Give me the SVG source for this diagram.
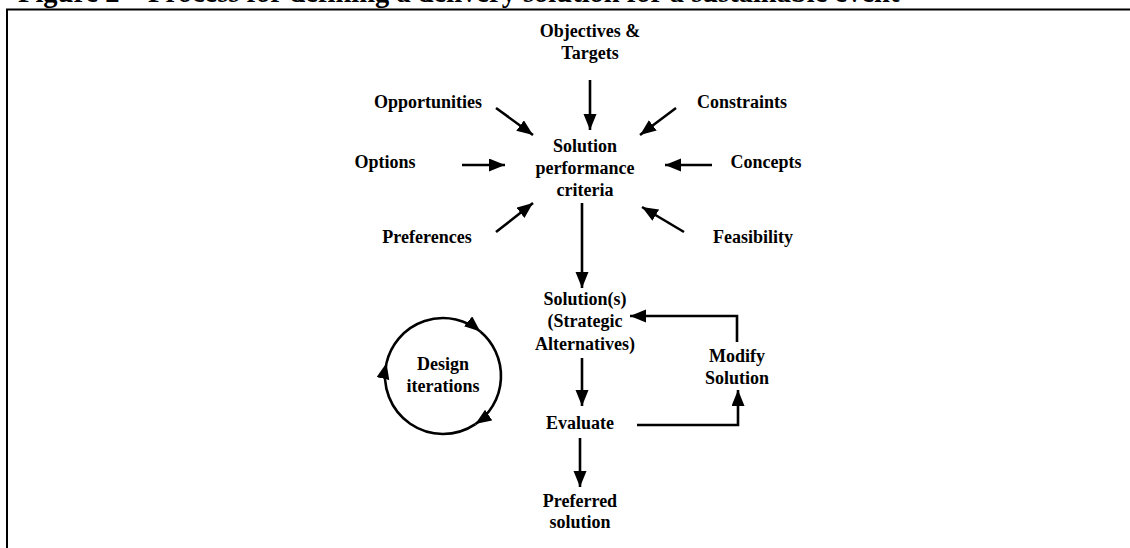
<svg xmlns="http://www.w3.org/2000/svg" width="1130" height="548" viewBox="0 0 1130 548">
<style>
  text { font-family: "Liberation Serif", "Times New Roman", serif; font-weight: bold; fill: #000; }
  .lbl { font-size: 18px; text-anchor: middle; }
  .title { font-size: 28.5px; }
  .conn { stroke: #000; stroke-width: 2.6; fill: none; marker-end: url(#ah); }
  .frame { stroke: #000; stroke-width: 2; fill: none; }
</style>
<defs>
  <marker id="ah" markerUnits="userSpaceOnUse" markerWidth="18" markerHeight="14" refX="16" refY="6.5" orient="auto">
    <path d="M0,0 L16,6.5 L0,13 z" fill="#000"/>
  </marker>
</defs>
<rect width="1130" height="548" fill="#fff"/>
<text class="title" x="18" y="2">Figure 2 – Process for defining a delivery solution for a sustainable event</text>
<path class="frame" d="M7,548 V9.5 H1130"/>

<g id="connectors">
  <line class="conn" x1="590" y1="80" x2="590" y2="130"/>
  <line class="conn" x1="496" y1="108" x2="533" y2="135"/>
  <line class="conn" x1="676" y1="108" x2="640" y2="135"/>
  <line class="conn" x1="462" y1="165" x2="505" y2="165"/>
  <line class="conn" x1="712" y1="165" x2="665" y2="165"/>
  <line class="conn" x1="496" y1="232" x2="533" y2="203"/>
  <line class="conn" x1="684" y1="232" x2="642" y2="207"/>
  <line class="conn" x1="582" y1="203" x2="582" y2="288"/>
  <line class="conn" x1="582" y1="358" x2="582" y2="406"/>
  <path class="conn" d="M637,425 H738 V390"/>
  <path class="conn" d="M737,342 V316 H630"/>
  <line class="conn" x1="580" y1="438" x2="580" y2="487"/>
</g>

<g id="objectives"><text class="lbl" x="590" y="37">Objectives &amp;</text><text class="lbl" x="590" y="59">Targets</text></g>
<g id="opportunities"><text class="lbl" x="428" y="108">Opportunities</text></g>
<g id="constraints"><text class="lbl" x="742" y="108">Constraints</text></g>
<g id="options"><text class="lbl" x="385" y="168">Options</text></g>
<g id="concepts"><text class="lbl" x="766" y="168">Concepts</text></g>
<g id="criteria"><text class="lbl" x="585" y="152">Solution</text><text class="lbl" x="585" y="174">performance</text><text class="lbl" x="585" y="196">criteria</text></g>
<g id="preferences"><text class="lbl" x="427" y="243">Preferences</text></g>
<g id="feasibility"><text class="lbl" x="753" y="243">Feasibility</text></g>
<g id="solutions"><text class="lbl" x="585" y="305">Solution(s)</text><text class="lbl" x="585" y="327">(Strategic</text><text class="lbl" x="585" y="350">Alternatives)</text></g>
<g id="modify"><text class="lbl" x="737" y="362">Modify</text><text class="lbl" x="737" y="384">Solution</text></g>
<g id="evaluate"><text class="lbl" x="580" y="429">Evaluate</text></g>
<g id="preferred"><text class="lbl" x="580" y="507">Preferred</text><text class="lbl" x="580" y="528">solution</text></g>
<g id="design-iterations">
  <path class="conn" d="M386.5,363 A58,58 0 0 1 480.3,331.6"/>
  <path class="conn" d="M480.3,331.6 A58,58 0 0 1 475.4,424.1"/>
  <path class="conn" d="M475.4,424.1 A58,58 0 0 1 386.5,363"/>
  <text class="lbl" x="443" y="370">Design</text><text class="lbl" x="443" y="392">iterations</text>
</g>
</svg>
